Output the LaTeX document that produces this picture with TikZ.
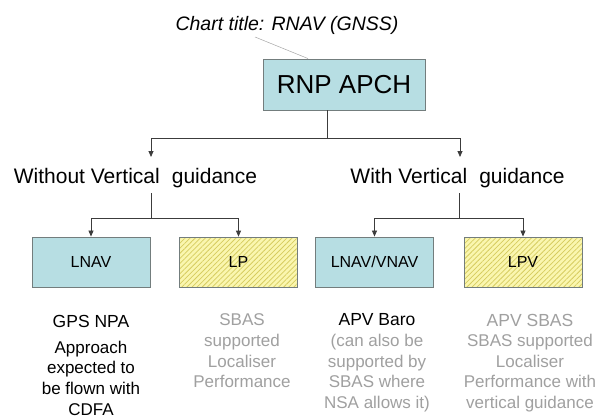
\documentclass[tikz,border=0pt]{standalone}
\usepackage{fontspec}
\setmainfont{Liberation Sans}
\usetikzlibrary{arrows.meta,patterns.meta}
\definecolor{bluefill}{RGB}{183,222,227}
\definecolor{boxline}{RGB}{115,125,125}
\definecolor{yelfill}{RGB}{250,246,175}
\definecolor{yelline}{RGB}{214,204,95}
\definecolor{txtgray}{RGB}{160,160,160}
\definecolor{conn}{RGB}{60,60,60}
\tikzset{
  bluebox/.style={draw=boxline, line width=0.9pt, fill=bluefill, minimum width=118pt, minimum height=50pt, inner sep=0pt, font=\fontsize{16}{19}\selectfont},
  yelbox/.style={draw=boxline, line width=0.9pt, preaction={fill=yelfill}, pattern={Lines[angle=45,distance=3.6pt,line width=0.75pt]}, pattern color=yelline, minimum width=118pt, minimum height=50pt, inner sep=0pt, font=\fontsize{16}{19}\selectfont},
  rnpbox/.style={draw=boxline, line width=0.9pt, fill=bluefill, minimum width=162pt, minimum height=51pt, inner sep=0pt, font=\fontsize{26}{30}\selectfont},
  titletext/.style={font=\fontsize{19.5}{23}\selectfont\itshape, inner sep=0pt},
  bigtext/.style={font=\fontsize{21}{25}\selectfont, inner sep=0pt},
  headtext/.style={font=\fontsize{17.5}{21}\selectfont, inner sep=0pt},
  bodytext/.style={font=\fontsize{17}{20.7}\selectfont, align=center, inner sep=0pt},
  connline/.style={draw=conn, line width=0.8pt},
  arr/.style={connline, -{Triangle[length=6pt,width=5pt]}},
  callout/.style={draw=gray!70, line width=0.5pt}
}
\begin{document}
\begin{tikzpicture}[x=1pt,y=-1pt]
\path[use as bounding box, fill=white] (0,0) rectangle (600,418);

% title and top box
\node[titletext] (title) at (287,25) {Chart title: RNAV (GNSS)};
\node[rnpbox] (rnp) at (344,84.5) {RNP APCH};
\coordinate (c0) at (255,37);
\coordinate (c1) at (308,60);
\draw[callout] (c0) -- (rnp.north -| c1);

% level 2 texts
\node[bigtext] (wo) at (135.5,178) {Without Vertical\hspace{0.3em} guidance};
\node[bigtext] (wi) at (457.5,178) {With Vertical\hspace{0.3em} guidance};

% connectors top
\coordinate (j0) at (327,138);
\coordinate (a1) at (151,157);
\coordinate (a2) at (460,157);
\draw[connline] (rnp.south -| j0) -- (j0);
\draw[arr] (j0) -| (a1);
\draw[arr] (j0) -| (a2);

% boxes
\node[bluebox] (lnav) at (91,262) {LNAV};
\node[yelbox] (lp) at (238.5,262) {LP};
\node[bluebox] (lnv) at (374.5,262) {LNAV/VNAV};
\node[yelbox] (lpv) at (523,262) {LPV};

% connectors lower
\coordinate (s1) at (151,193);
\coordinate (j1) at (151,218);
\coordinate (s2) at (459,193);
\coordinate (j2) at (459,218);
\draw[connline] (s1) -- (j1);
\draw[arr] (j1) -| (lnav.north);
\draw[arr] (j1) -| (lp.north);
\draw[connline] (s2) -- (j2);
\draw[arr] (j2) -| (lnv.north);
\draw[arr] (j2) -| (lpv.north);

% descriptions
\node[headtext] (h1) at (91,321) {GPS NPA};
\node[bodytext] (b1) at (91,378) {Approach\\expected to\\be flown with\\CDFA};
\node[bodytext, text=txtgray] (b2) at (242,351) {SBAS\\supported\\Localiser\\Performance};
\node[headtext] (h3) at (377,320) {APV Baro};
\node[bodytext, text=txtgray] (b3) at (377,373) {(can also be\\supported by\\SBAS where\\NSA allows it)};
\node[headtext, text=txtgray] (h4) at (530,320) {APV SBAS};
\node[bodytext, text=txtgray] (b4) at (530,373) {SBAS supported\\Localiser\\Performance with\\vertical guidance};
\end{tikzpicture}
\end{document}
